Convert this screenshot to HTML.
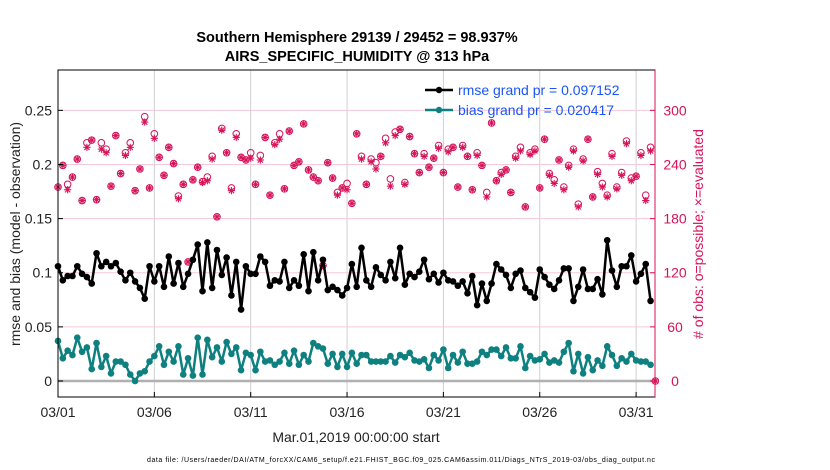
<!DOCTYPE html>
<html><head><meta charset="utf-8"><style>
body{margin:0;background:#fff;}
svg{display:block;font-family:"Liberation Sans",Arial,sans-serif;}
</style></head><body>
<svg id="chart" width="830" height="470" viewBox="0 0 830 470">
<text x="357" y="42" text-anchor="middle" font-size="14.5" font-weight="bold" fill="#000">Southern Hemisphere 29139 / 29452 = 98.937%</text>
<text x="357" y="61" text-anchor="middle" font-size="14.5" font-weight="bold" fill="#000">AIRS_SPECIFIC_HUMIDITY @ 313 hPa</text>
<g id="grid"></g>
<g id="series"></g>
<rect x="58" y="70" width="597" height="327" fill="none" stroke="#000" stroke-width="1"/>
<line x1="655" y1="70" x2="655" y2="397" stroke="#d6135a" stroke-width="1"/>
<g id="axes"></g>
<text transform="translate(20,234) rotate(-90)" text-anchor="middle" font-size="14" fill="#222">rmse and bias (model - observation)</text>
<text transform="translate(703,234) rotate(-90)" text-anchor="middle" font-size="14" fill="#d6135a"># of obs: o=possible; ×=evaluated</text>
<text x="356" y="442" text-anchor="middle" font-size="14" fill="#222">Mar.01,2019 00:00:00 start</text>
<text x="401" y="462" text-anchor="middle" font-size="7" fill="#000" textLength="508">data file: /Users/raeder/DAI/ATM_forcXX/CAM6_setup/f.e21.FHIST_BGC.f09_025.CAM6assim.011/Diags_NTrS_2019-03/obs_diag_output.nc</text>
<g>
<line x1="425" y1="90" x2="453" y2="90" stroke="#000" stroke-width="2.5"/>
<circle cx="439" cy="90" r="3.2" fill="#000"/>
<text x="458" y="95" font-size="14" fill="#1a55f5">rmse grand pr = 0.097152</text>
<line x1="425" y1="110" x2="453" y2="110" stroke="#0f8080" stroke-width="2.5"/>
<circle cx="439" cy="110" r="3.2" fill="#0f8080"/>
<text x="458" y="115" font-size="14" fill="#1a55f5">bias grand pr = 0.020417</text>
</g>
</svg>
<script>
const xTickLabels = ["03/01","03/06","03/11","03/16","03/21","03/26","03/31"];
const xTickDays = [0,5,10,15,20,25,30];
const yTickValues = [0,0.05,0.1,0.15,0.2,0.25];
const yTickLabels = ["0","0.05","0.1","0.15","0.2","0.25"];
const rTickValues = [0,60,120,180,240,300];
const rmse = [0.106,0.093,0.097,0.097,0.106,0.099,0.096,0.090,0.118,0.106,0.110,0.106,0.109,0.101,0.093,0.100,0.092,0.086,0.076,0.106,0.092,0.106,0.087,0.115,0.090,0.109,0.087,0.099,0.112,0.126,0.083,0.128,0.086,0.121,0.098,0.114,0.079,0.110,0.066,0.106,0.099,0.099,0.115,0.110,0.088,0.093,0.092,0.110,0.086,0.093,0.088,0.117,0.083,0.119,0.093,0.112,0.084,
0.087,0.084,0.079,0.086,0.108,0.087,0.123,0.093,0.087,0.105,0.098,0.093,0.110,0.095,0.123,0.089,0.099,0.096,0.101,0.112,0.094,0.099,0.091,0.100,0.093,0.092,0.088,0.092,0.081,0.097,0.070,0.090,0.074,0.090,0.108,0.103,0.098,0.086,0.099,0.102,0.086,0.082,0.077,0.103,0.096,0.089,0.085,0.093,0.104,0.104,0.074,0.087,0.103,0.085,0.085,0.094,0.080,0.130,0.102,0.087,0.106,0.106,0.116,0.092,0.099,0.108,0.074];
const bias = [0.037,0.021,0.028,0.024,0.040,0.027,0.031,0.011,0.035,0.013,0.023,0.007,0.018,0.018,0.015,0.006,0.000,0.007,0.009,0.018,0.023,0.032,0.015,0.027,0.018,0.032,0.006,0.021,0.005,0.040,0.006,0.038,0.022,0.031,0.018,0.036,0.025,0.031,0.010,0.026,0.024,0.010,0.027,0.018,0.019,0.015,0.018,0.026,0.016,0.028,0.015,0.024,0.018,0.035,0.032,0.030,0.016,
0.025,0.013,0.025,0.013,0.026,0.016,0.024,0.024,0.018,0.018,0.018,0.018,0.023,0.017,0.024,0.022,0.026,0.019,0.018,0.020,0.012,0.024,0.019,0.029,0.012,0.024,0.017,0.027,0.016,0.016,0.018,0.027,0.024,0.029,0.029,0.023,0.031,0.021,0.021,0.032,0.012,0.023,0.019,0.020,0.025,0.017,0.019,0.017,0.027,0.035,0.009,0.025,0.007,0.022,0.010,0.019,0.014,0.032,0.024,0.014,0.021,0.018,0.025,0.019,0.018,0.018,0.015];
const obsPossible = [215,239,218,226,246,200,264,267,201,264,257,216,272,230,253,264,211,235,293,214,274,248,228,259,241,205,218,132,223,237,221,226,249,182,280,253,214,274,248,245,253,218,250,270,206,264,274,213,277,239,243,285,234,226,222,128,242,
225,209,214,219,197,274,249,218,246,242,249,269,224,276,279,220,271,252,231,252,237,247,261,231,257,259,215,261,249,212,253,239,209,286,222,231,234,209,249,259,193,253,257,214,268,230,223,245,215,239,257,196,246,268,204,232,219,206,252,215,231,266,225,227,253,206,259,0];
const obsEvaluated = [215,239,212,226,246,200,259,267,201,257,253,216,272,230,250,259,211,235,287,214,269,248,228,259,241,202,218,132,223,237,220,222,246,182,278,253,211,270,248,245,247,218,245,270,206,262,268,213,277,239,243,285,234,226,222,128,242,
225,206,214,212,197,274,246,218,243,235,249,264,216,272,279,218,271,252,231,249,237,247,258,231,254,259,215,259,249,212,250,239,204,286,222,229,234,209,247,255,193,251,255,214,268,228,219,245,212,237,255,193,244,268,204,229,215,204,249,213,228,263,222,227,250,200,255,0];

const NS='http://www.w3.org/2000/svg';
const X0=58, PXDAY=19.27, Y0=381, PXUNIT=1082.6, RSCALE=1200;
function xs(i){return X0+i*PXDAY/4;}
function xd(d){return X0+d*PXDAY;}
function ys(v){return Y0-v*PXUNIT;}
function yr(c){return Y0-(c/RSCALE)*PXUNIT;}
function mk(tag,attrs,parent){const e=document.createElementNS(NS,tag);for(const k in attrs)e.setAttribute(k,attrs[k]);parent.appendChild(e);return e;}
const grid=document.getElementById('grid'), axes=document.getElementById('axes'), ser=document.getElementById('series');

xTickDays.forEach((d,i)=>{
  const x=xd(d);
  const gl=mk('line',{x1:x,y1:70,x2:x,y2:397,stroke:'#d0d0d0','stroke-width':1},grid);
  
  
  const t=mk('line',{x1:x,y1:397,x2:x,y2:392,stroke:'#000'},axes);
  
  
  const tx=mk('text',{x:x,y:417,'text-anchor':'middle','font-size':14,fill:'#222'},axes);
  tx.textContent=xTickLabels[i];
  
  
});
yTickValues.forEach((v,i)=>{
  const y=ys(v);
  if(v>0){
    const gl=mk('line',{x1:58,y1:y,x2:655,y2:y,stroke:'#f6c9da','stroke-width':1},grid);
    
    
  }
  const t=mk('line',{x1:58,y1:y,x2:63,y2:y,stroke:'#000'},axes);
  
  
  const tx=mk('text',{x:52,y:y+5,'text-anchor':'end','font-size':14,fill:'#222'},axes);
  tx.textContent=yTickLabels[i];
  
  
});
rTickValues.forEach(c=>{
  const y=yr(c);
  const t=mk('line',{x1:650,y1:y,x2:655,y2:y,stroke:'#d6135a'},axes);
  
  
  const tx=mk('text',{x:675,y:y+5,'text-anchor':'middle','font-size':14,fill:'#d6135a'},axes);
  tx.textContent=String(c);
  
  
});
const zl=mk('line',{x1:58,y1:ys(0),x2:655,y2:ys(0),stroke:'#b0b0b0','stroke-width':2.5},grid);



obsPossible.forEach((c,i)=>{
  const x=xs(i), y=yr(c);
  const o=mk('circle',{cx:x,cy:y,r:3.3,fill:'none',stroke:'#d6135a','stroke-width':1},ser);
  
  
});
obsEvaluated.forEach((c,i)=>{
  const x=xs(i), y=yr(c);
  const g=mk('g',{stroke:'#d6135a','stroke-width':1.1},ser);
  
  
  const r=3.6;
  mk('line',{x1:x-r,y1:y,x2:x+r,y2:y},g);
  mk('line',{x1:x,y1:y-r,x2:x,y2:y+r},g);
  mk('line',{x1:x-2.6,y1:y-2.6,x2:x+2.6,y2:y+2.6},g);
  mk('line',{x1:x-2.6,y1:y+2.6,x2:x+2.6,y2:y-2.6},g);
});
function drawLine(arr,color,name){
  const pts=arr.map((v,i)=>xs(i).toFixed(1)+','+ys(v).toFixed(1)).join(' ');
  const pl=mk('polyline',{points:pts,fill:'none',stroke:color,'stroke-width':2.5,'stroke-linejoin':'round'},ser);
  
  
  arr.forEach((v,i)=>{
    const c=mk('circle',{cx:xs(i),cy:ys(v),r:3.3,fill:color},ser);
    
    
  });
}
drawLine(bias,'#0f8080','bias');
drawLine(rmse,'#000000','rmse');
</script>
</body></html>
